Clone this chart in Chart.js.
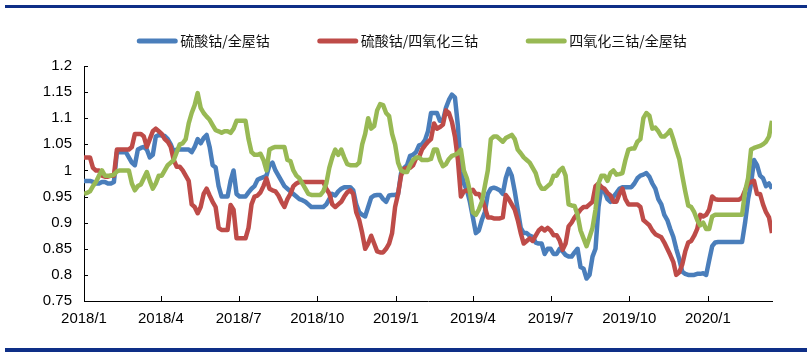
<!DOCTYPE html>
<html>
<head>
<meta charset="utf-8">
<script src="https://cdn.jsdelivr.net/npm/chart.js@4.4.1/dist/chart.umd.min.js"></script>
<style>
    html, body { margin: 0; padding: 0; background: #fff; }
    #wrap { width: 812px; height: 354px; }
</style>
</head>
<body>
<div id="wrap"><canvas id="cobaltChart" width="812" height="354"></canvas></div>
<script>
// Price ratios, read every half week from 2018/1 (x = days since the first point)
const seriesNames = ['硫酸钴/全屋钴', '硫酸钴/四氧化三钴', '四氧化三钴/全屋钴'];
const seriesColors = ['#4a7ebb', '#be4b48', '#98b954'];
const stepDays = 3.5;

const sulfateVsMetal = [
    0.98, 0.98, 0.98, 0.978, 0.975, 0.975, 0.978, 0.978, 0.975, 0.975, 0.978, 1.035, 1.035, 1.035, 1.035, 1.025, 1.015, 1.01, 1.04, 1.043,
    1.045, 1.04, 1.025, 1.03, 1.065, 1.068, 1.067, 1.066, 1.06, 1.05, 1.035, 1.04, 1.04, 1.04, 1.04, 1.04, 1.035, 1.045, 1.06,
    1.052, 1.062, 1.068, 1.045, 1.01, 1.006, 0.97, 0.95, 0.95, 0.95, 0.98, 1.0, 0.955, 0.95, 0.95, 0.95, 0.958, 0.965, 0.97, 0.982,
    0.985, 0.987, 0.99, 1.01, 1.015, 1.0, 0.99, 0.98, 0.97, 0.965, 0.96, 0.955, 0.95, 0.945, 0.943, 0.94, 0.935, 0.93,
    0.93, 0.93, 0.93, 0.93, 0.935, 0.945, 0.955, 0.952, 0.96, 0.965, 0.968, 0.968, 0.968, 0.962, 0.935, 0.92, 0.915, 0.912, 0.93, 0.948,
    0.952, 0.953, 0.953, 0.945, 0.94, 0.952, 0.953, 0.953, 0.955, 0.995, 1.005, 1.01, 1.028, 1.03, 1.035, 1.048, 1.05, 1.058, 1.075, 1.11,
    1.11, 1.11, 1.095, 1.095, 1.12, 1.135, 1.145, 1.14, 1.085, 0.998, 0.975, 0.962, 0.94, 0.91, 0.88, 0.885, 0.905, 0.92, 0.955, 0.965,
    0.967, 0.965, 0.962, 0.955, 0.985, 1.003, 0.99, 0.96, 0.925, 0.89, 0.88, 0.88, 0.875, 0.873, 0.862, 0.86, 0.86, 0.84,
    0.85, 0.85, 0.84, 0.84, 0.85, 0.845, 0.838, 0.835, 0.835, 0.843, 0.85, 0.815, 0.812, 0.793, 0.8, 0.835, 0.85, 0.93, 0.968, 0.96,
    0.945, 0.94, 0.95, 0.957, 0.965, 0.968, 0.968, 0.968, 0.968, 0.975, 0.985, 0.99, 0.992, 0.995, 0.988, 0.975, 0.965, 0.945,
    0.935, 0.915, 0.905, 0.888, 0.873, 0.85, 0.83, 0.806, 0.802, 0.8, 0.8, 0.8, 0.802, 0.802, 0.803, 0.8, 0.828, 0.855, 0.862,
    0.863, 0.863, 0.863, 0.863, 0.863, 0.863, 0.863, 0.863, 0.863, 0.9, 0.945, 0.975, 1.02, 1.01, 0.99, 0.985, 0.97, 0.975, 0.965
];

const sulfateVsOxide = [
    1.025, 1.025, 1.025, 1.005, 1.0, 1.0, 0.99, 0.988, 0.988, 0.99, 0.99, 1.04, 1.04, 1.04, 1.04, 1.04, 1.045, 1.07, 1.07, 1.07,
    1.065, 1.045, 1.06, 1.075, 1.08, 1.075, 1.07, 1.06, 1.055, 1.045, 1.02, 1.007, 1.007, 1.0, 0.99, 0.98, 0.935, 0.93, 0.918,
    0.93, 0.955, 0.965, 0.952, 0.94, 0.93, 0.89, 0.886, 0.886, 0.886, 0.934, 0.925, 0.87, 0.87, 0.87, 0.87, 0.89, 0.935, 0.95, 0.952,
    0.958, 0.97, 0.985, 0.965, 0.962, 0.96, 0.952, 0.94, 0.93, 0.945, 0.955, 0.97, 0.975, 0.978, 0.978, 0.978, 0.978, 0.978,
    0.978, 0.978, 0.978, 0.978, 0.965, 0.956, 0.935, 0.93, 0.935, 0.94, 0.95, 0.958, 0.962, 0.955, 0.92, 0.905, 0.88, 0.85, 0.86, 0.875,
    0.86, 0.845, 0.843, 0.843, 0.85, 0.86, 0.88, 0.93, 0.955, 0.99, 1.003, 1.005, 1.005, 1.01, 1.023, 1.025, 1.04, 1.048, 1.055, 1.06,
    1.09, 1.08, 1.083, 1.088, 1.115, 1.11, 1.093, 1.065, 1.02, 0.95, 0.96, 0.962, 0.958, 0.963, 0.955, 0.955, 0.945, 0.93, 0.91, 0.91,
    0.908, 0.908, 0.908, 0.91, 0.953, 0.945, 0.935, 0.925, 0.905, 0.88, 0.86, 0.865, 0.87, 0.865, 0.875, 0.885, 0.89, 0.885,
    0.89, 0.885, 0.876, 0.876, 0.866, 0.848, 0.86, 0.893, 0.9, 0.91, 0.917, 0.925, 0.93, 0.93, 0.935, 0.94, 0.97, 0.975, 0.968, 0.965,
    0.957, 0.952, 0.94, 0.94, 0.955, 0.965, 0.945, 0.935, 0.935, 0.935, 0.935, 0.93, 0.905, 0.9, 0.895, 0.885, 0.878, 0.875,
    0.872, 0.862, 0.85, 0.838, 0.825, 0.8, 0.805, 0.82, 0.845, 0.862, 0.865, 0.875, 0.888, 0.915, 0.912, 0.915, 0.925, 0.95, 0.945,
    0.944, 0.944, 0.944, 0.944, 0.944, 0.944, 0.944, 0.944, 0.948, 0.962, 0.975, 0.978, 0.98, 0.955, 0.955, 0.935, 0.92, 0.91, 0.88
];

const oxideVsMetal = [
    0.955, 0.957, 0.96, 0.97, 0.978, 0.99, 1.0, 0.99, 0.99, 0.99, 0.992, 0.998, 1.0, 1.0, 1.0, 1.0, 0.975, 0.962, 0.97, 0.973,
    0.985, 0.997, 0.98, 0.965, 0.975, 0.99, 0.99, 1.0, 1.01, 1.015, 1.02, 1.035, 1.05, 1.052, 1.06, 1.09, 1.11, 1.125, 1.148,
    1.12, 1.11, 1.103, 1.097, 1.087, 1.077, 1.075, 1.072, 1.075, 1.075, 1.072, 1.08, 1.095, 1.095, 1.095, 1.095, 1.06, 1.035, 1.03, 1.03,
    1.032, 1.02, 1.0, 1.04, 1.043, 1.045, 1.045, 1.045, 1.045, 1.02, 1.018, 1.0, 0.99, 0.985, 0.975, 0.965, 0.955, 0.953,
    0.953, 0.953, 0.953, 0.96, 0.975, 1.005, 1.025, 1.04, 1.03, 1.04, 1.025, 1.012, 1.01, 1.01, 1.01, 1.015, 1.05, 1.07, 1.1, 1.08,
    1.085, 1.115, 1.127, 1.125, 1.11, 1.104, 1.07, 1.05, 1.015, 1.0, 0.997, 0.997, 1.01, 1.02, 1.025, 1.025, 1.02, 1.02, 1.02, 1.022,
    1.04, 1.04, 1.02, 1.008, 1.012, 1.022, 1.028, 1.03, 1.033, 1.04, 1.0, 0.985, 0.96, 0.92, 0.915, 0.925, 0.94, 0.97, 1.0, 1.06,
    1.065, 1.065, 1.06, 1.055, 1.062, 1.065, 1.068, 1.06, 1.04, 1.033, 1.025, 1.02, 1.015, 1.005, 0.995, 0.975, 0.965, 0.965,
    0.97, 0.975, 0.99, 0.99, 1.0, 1.005, 0.99, 0.935, 0.933, 0.932, 0.915, 0.885, 0.87, 0.855, 0.872, 0.89, 0.925, 0.975, 0.99, 0.99,
    0.98, 0.995, 1.0, 0.992, 0.993, 0.995, 1.02, 1.04, 1.042, 1.042, 1.055, 1.06, 1.1, 1.11, 1.105, 1.08, 1.082, 1.075,
    1.065, 1.065, 1.07, 1.077, 1.06, 1.04, 1.022, 0.99, 0.96, 0.933, 0.93, 0.92, 0.905, 0.895, 0.9, 0.888, 0.888, 0.912, 0.915,
    0.915, 0.915, 0.915, 0.915, 0.915, 0.915, 0.915, 0.915, 0.915, 0.96, 0.985, 1.04, 1.043, 1.045, 1.047, 1.05, 1.055, 1.065, 1.095
];

// Quarter starts on the x axis (days since 2018/1/1)
const tickDays = [0, 90, 181, 273, 365, 455, 546, 638, 730];
const tickLabels = ['2018/1', '2018/4', '2018/7', '2018/10', '2019/1', '2019/4', '2019/7', '2019/10', '2020/1'];
const lastDay = 805;

const toPoints = values => values.map((v, i) => ({ x: i * stepDays, y: v }));

/**
 * Navy rules above and below the chart
 */
const framePlugin = {
    id: 'frame',
    beforeDraw(chart) {
        const ctx = chart.ctx;
        ctx.save();
        ctx.fillStyle = '#0e2f87';
        ctx.fillRect(5, 5, 802, 3);
        ctx.fillRect(5, 348, 802, 4);
        ctx.restore();
    }
};

/**
 * Short tick marks pointing into the plot
 */
const innerTicksPlugin = {
    id: 'innerTicks',
    afterDraw(chart) {
        const { ctx, chartArea, scales } = chart;
        ctx.save();
        ctx.strokeStyle = '#000';
        ctx.lineWidth = 1;
        ctx.beginPath();
        tickDays.forEach(d => {
            const x = Math.round(scales.x.getPixelForValue(d)) + 0.5;
            ctx.moveTo(x, chartArea.bottom);
            ctx.lineTo(x, chartArea.bottom - 5);
        });
        scales.y.ticks.forEach(t => {
            const y = Math.round(scales.y.getPixelForValue(t.value)) + 0.5;
            ctx.moveTo(chartArea.left, y);
            ctx.lineTo(chartArea.left + 4, y);
        });
        ctx.stroke();
        ctx.restore();
    }
};

/**
 * Legend row at the top, line samples with round caps
 */
const legendPlugin = {
    id: 'topLegend',
    afterDraw(chart) {
        const ctx = chart.ctx;
        ctx.save();
        ctx.font = '14px "Noto Sans CJK SC"';
        ctx.textBaseline = 'middle';
        const sample = 40, gap = 3, spacing = 48;
        const widths = seriesNames.map(n => ctx.measureText(n).width);
        const total = widths.reduce((a, w) => a + sample + gap + w, 0) + spacing * (widths.length - 1);
        let x = 412 - total / 2;
        const y = 41;
        seriesNames.forEach((name, i) => {
            ctx.strokeStyle = seriesColors[i];
            ctx.lineWidth = 5;
            ctx.lineCap = 'round';
            ctx.beginPath();
            ctx.moveTo(x + 2, y);
            ctx.lineTo(x + sample - 2, y);
            ctx.stroke();
            ctx.fillStyle = '#111';
            ctx.fillText(name, x + sample + gap, y);
            x += sample + gap + widths[i] + spacing;
        });
        ctx.restore();
    }
};

const seriesValues = [sulfateVsMetal, sulfateVsOxide, oxideVsMetal];

new Chart(document.getElementById('cobaltChart'), {
    type: 'line',
    data: {
        datasets: seriesValues.map((values, i) => ({
            label: seriesNames[i],
            data: toPoints(values),
            borderColor: seriesColors[i],
            backgroundColor: seriesColors[i],
            borderWidth: 4.5,
            borderJoinStyle: 'round',
            pointRadius: 0,
            tension: 0,
            order: 2 - i
        }))
    },
    options: {
        responsive: false,
        animation: false,
        devicePixelRatio: 1,
        layout: {
            padding: { top: 66, right: 40, bottom: 0, left: 0 }
        },
        plugins: {
            legend: { display: false },
            tooltip: { enabled: false }
        },
        scales: {
            x: {
                type: 'linear',
                min: 0,
                max: lastDay,
                grid: { display: false, drawTicks: false },
                border: { display: true, color: '#000', width: 1 },
                afterBuildTicks: scale => {
                    scale.ticks = tickDays.map(v => ({ value: v }));
                },
                afterFit: scale => {
                    scale.height = 53;
                },
                ticks: {
                    autoSkip: false,
                    maxRotation: 0,
                    padding: 9,
                    color: '#000',
                    font: { family: "'Liberation Sans', Arial, sans-serif", size: 15 },
                    callback: value => tickLabels[tickDays.indexOf(value)]
                }
            },
            y: {
                min: 0.75,
                max: 1.2,
                grid: { display: false, drawTicks: false },
                border: { display: true, color: '#000', width: 1 },
                afterFit: scale => {
                    scale.width = 84;
                },
                ticks: {
                    stepSize: 0.05,
                    padding: 12,
                    color: '#000',
                    font: { family: "'Liberation Sans', Arial, sans-serif", size: 15 },
                    callback: value => String(parseFloat(value.toFixed(2)))
                }
            }
        }
    },
    plugins: [framePlugin, innerTicksPlugin, legendPlugin]
});
</script>
</body>
</html>
